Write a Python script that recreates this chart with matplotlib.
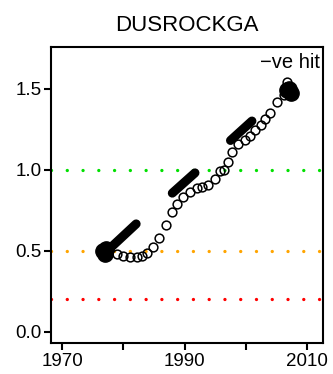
import matplotlib
matplotlib.use("Agg")
import matplotlib.pyplot as plt

plt.rcParams['font.family'] = ['Liberation Sans', 'DejaVu Sans']

title = "DUSROCKGA"

# open circles (year, value)
years = [1978.9, 1980.0, 1981.1, 1982.2, 1983.0, 1983.8, 1984.9, 1985.8,
         1986.9, 1987.9, 1988.8, 1989.8, 1990.9, 1992.0, 1992.8, 1993.9,
         1995.0, 1995.8, 1996.4, 1997.1, 1997.8, 1998.8, 1999.9, 2000.7,
         2001.5, 2002.4, 2003.2, 2004.0, 2005.1, 2006.2, 2006.8]
values = [0.48, 0.467, 0.46, 0.463, 0.467, 0.484, 0.52, 0.58,
          0.66, 0.74, 0.79, 0.83, 0.86, 0.885, 0.89, 0.905,
          0.94, 0.99, 1.0, 1.05, 1.11, 1.16, 1.18, 1.21,
          1.245, 1.275, 1.31, 1.35, 1.42, 1.46, 1.54]

# filled clusters
hit_years = [1976.7, 1977.0, 1977.2, 2006.7, 2007.0, 2007.3]
hit_values = [0.50, 0.48, 0.51, 1.49, 1.50, 1.47]

# thick trend segments: (x0, y0, x1, y1)
seg_x0 = [1977.7, 1988.0, 1997.5]
seg_y0 = [0.51, 0.855, 1.18]
seg_x1 = [1982.1, 1991.7, 2001.0]
seg_y1 = [0.665, 0.98, 1.30]

# threshold lines
thresholds = [1.0, 0.5, 0.2]
thr_colors = ['#00e000', 'orange', 'red']

fig = plt.figure(figsize=(3.33, 3.74), dpi=100)
ax = fig.add_axes([51/333, 1 - 343/374, (323-51)/333, (343-46.5)/374])

for y, c in zip(thresholds, thr_colors):
    ax.plot([1968.2, 2012.6], [y, y], linestyle=(0, (0.01, 4.72)), color=c,
            linewidth=2.4, dash_capstyle='round', zorder=1)

for x0, y0, x1, y1 in zip(seg_x0, seg_y0, seg_x1, seg_y1):
    ax.plot([x0, x1], [y0, y1], color='black', linewidth=6.5,
            solid_capstyle='round', zorder=3)

ax.plot(years, values, linestyle='none', marker='o', markersize=6.3,
        markerfacecolor='none', markeredgecolor='black', markeredgewidth=1.1,
        zorder=4)
ax.plot(hit_years, hit_values, linestyle='none', marker='o', markersize=11,
        color='black', zorder=5)

ax.text(2012.1, 1.60, "\u2212ve hit", ha='right', va='bottom', fontsize=14.5)

ax.set_xlim(1968.2, 2012.6)
ax.set_ylim(-0.07, 1.76)
ax.set_xticks([1970, 1980, 1990, 2000, 2010])
ax.set_xticklabels(['1970', '', '1990', '', '2010'])
ax.set_yticks([0.0, 0.5, 1.0, 1.5])
ax.set_yticklabels(['0.0', '0.5', '1.0', '1.5'])
ax.tick_params(direction='out', length=5, width=1.5, labelsize=13.5, pad=2)
for s in ax.spines.values():
    s.set_linewidth(1.5)
ax.set_title(title, fontsize=16, pad=11.5)

fig.savefig("out.png", dpi=100)
